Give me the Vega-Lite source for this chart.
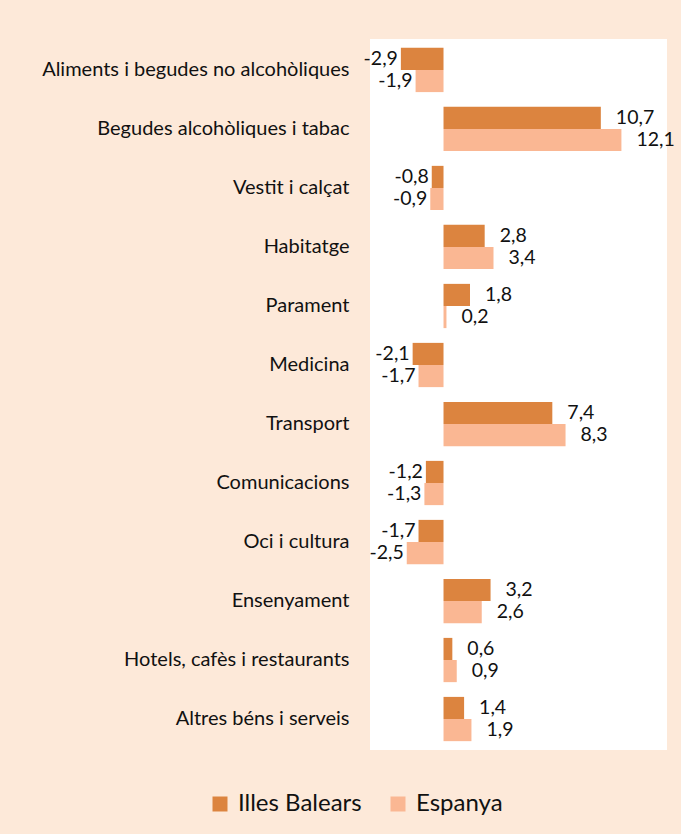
{
  "$schema": "https://vega.github.io/schema/vega-lite/v6.json",
  "width": 297,
  "height": 711,
  "autosize": "none",
  "padding": {"left": 370, "top": 39, "right": 14, "bottom": 84},
  "background": "#FDE9D9",
  "config": {
    "view": {"fill": "white", "stroke": null},
    "font": "Lato",
    "locale": {"number": {"decimal": ",", "thousands": ".", "grouping": [3], "currency": ["", " €"], "minus": "-"}}
  },
  "data": {
    "values": [
      {"categoria": "Aliments i begudes no alcohòliques", "serie": "Illes Balears", "valor": -2.9},
      {"categoria": "Aliments i begudes no alcohòliques", "serie": "Espanya", "valor": -1.9},
      {"categoria": "Begudes alcohòliques i tabac", "serie": "Illes Balears", "valor": 10.7},
      {"categoria": "Begudes alcohòliques i tabac", "serie": "Espanya", "valor": 12.1},
      {"categoria": "Vestit i calçat", "serie": "Illes Balears", "valor": -0.8},
      {"categoria": "Vestit i calçat", "serie": "Espanya", "valor": -0.9},
      {"categoria": "Habitatge", "serie": "Illes Balears", "valor": 2.8},
      {"categoria": "Habitatge", "serie": "Espanya", "valor": 3.4},
      {"categoria": "Parament", "serie": "Illes Balears", "valor": 1.8},
      {"categoria": "Parament", "serie": "Espanya", "valor": 0.2},
      {"categoria": "Medicina", "serie": "Illes Balears", "valor": -2.1},
      {"categoria": "Medicina", "serie": "Espanya", "valor": -1.7},
      {"categoria": "Transport", "serie": "Illes Balears", "valor": 7.4},
      {"categoria": "Transport", "serie": "Espanya", "valor": 8.3},
      {"categoria": "Comunicacions", "serie": "Illes Balears", "valor": -1.2},
      {"categoria": "Comunicacions", "serie": "Espanya", "valor": -1.3},
      {"categoria": "Oci i cultura", "serie": "Illes Balears", "valor": -1.7},
      {"categoria": "Oci i cultura", "serie": "Espanya", "valor": -2.5},
      {"categoria": "Ensenyament", "serie": "Illes Balears", "valor": 3.2},
      {"categoria": "Ensenyament", "serie": "Espanya", "valor": 2.6},
      {"categoria": "Hotels, cafès i restaurants", "serie": "Illes Balears", "valor": 0.6},
      {"categoria": "Hotels, cafès i restaurants", "serie": "Espanya", "valor": 0.9},
      {"categoria": "Altres béns i serveis", "serie": "Illes Balears", "valor": 1.4},
      {"categoria": "Altres béns i serveis", "serie": "Espanya", "valor": 1.9}
    ]
  },
  "encoding": {
    "y": {
      "field": "categoria",
      "type": "nominal",
      "sort": null,
      "scale": {"paddingInner": 0.25, "paddingOuter": 0.15},
      "axis": {
        "title": null,
        "domain": false,
        "ticks": false,
        "labelPadding": 21,
        "labelFontSize": 20,
        "labelColor": "#111111",
        "labelLimit": 400
      }
    },
    "yOffset": {"field": "serie", "type": "nominal", "sort": ["Illes Balears", "Espanya"]},
    "x": {
      "field": "valor",
      "type": "quantitative",
      "scale": {"domain": [-5, 15.2], "nice": false, "zero": false},
      "axis": null
    }
  },
  "layer": [
    {
      "mark": {"type": "bar"},
      "encoding": {
        "color": {
          "field": "serie",
          "type": "nominal",
          "sort": ["Illes Balears", "Espanya"],
          "scale": {"domain": ["Illes Balears", "Espanya"], "range": ["#DC843F", "#FAB793"]},
          "legend": {
            "title": null,
            "orient": "none",
            "legendX": -162,
            "legendY": 753,
            "direction": "horizontal",
            "symbolType": "square",
            "symbolSize": 225,
            "symbolStrokeWidth": 0,
            "labelFontSize": 24,
            "labelColor": "#111111",
            "labelOffset": 6,
            "columnPadding": 24,
            "padding": 0
          }
        }
      }
    },
    {
      "transform": [{"filter": "datum.valor >= 0"}],
      "mark": {"type": "text", "align": "left", "baseline": "middle", "dx": 15, "fontSize": 19.5, "color": "#111111"},
      "encoding": {"text": {"field": "valor", "type": "quantitative", "format": ".1f"}}
    },
    {
      "transform": [{"filter": "datum.valor < 0"}],
      "mark": {"type": "text", "align": "right", "baseline": "middle", "dx": -3, "fontSize": 19.5, "color": "#111111"},
      "encoding": {"text": {"field": "valor", "type": "quantitative", "format": ".1f"}}
    },
    {
      "data": {"values": [{}]},
      "mark": {"type": "rule", "color": "#868686", "strokeWidth": 1},
      "encoding": {"x": {"datum": 0}, "y": null, "yOffset": null}
    }
  ]
}
